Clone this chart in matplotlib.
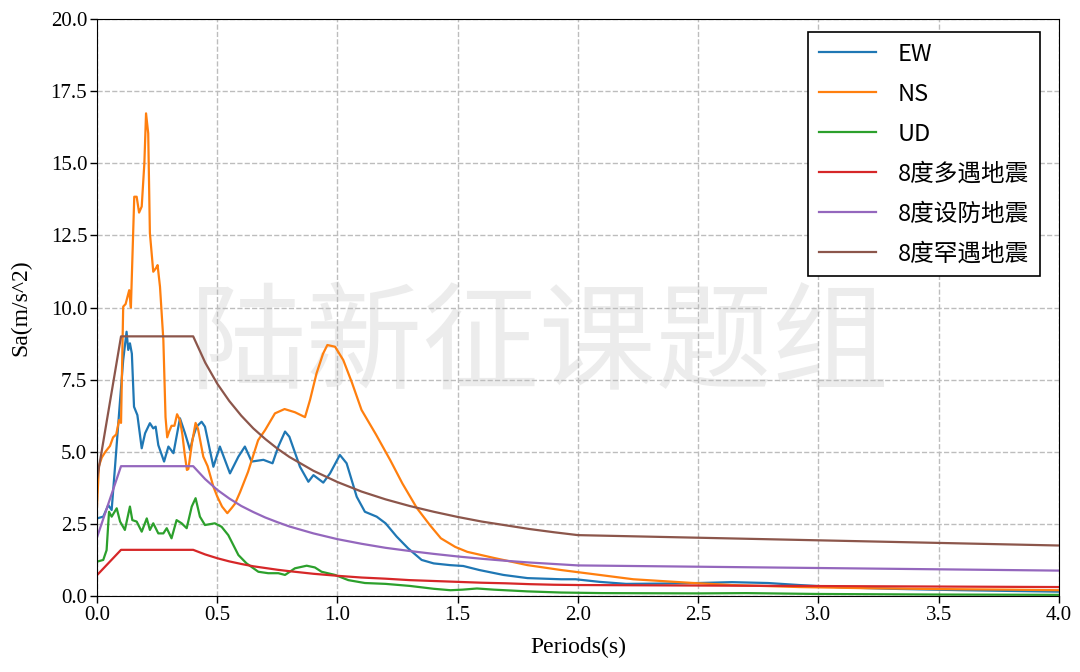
import matplotlib
matplotlib.use("Agg")
import matplotlib.pyplot as plt

# ---- data ----
# EW component
ew_T = [0.0, 0.026, 0.047, 0.061, 0.075, 0.096, 0.109, 0.123, 0.13, 0.137, 0.145, 0.154,
        0.168, 0.186, 0.2, 0.22, 0.234, 0.244, 0.255, 0.279, 0.297, 0.318, 0.345, 0.366,
        0.387, 0.4, 0.414, 0.435, 0.449, 0.484, 0.511, 0.553, 0.588, 0.615, 0.643, 0.692,
        0.73, 0.754, 0.782, 0.8, 0.844, 0.879, 0.9, 0.941, 0.969, 1.01, 1.038, 1.08, 1.114,
        1.163, 1.2, 1.246, 1.294, 1.35, 1.4, 1.468, 1.523, 1.59, 1.69, 1.79, 1.93, 1.99,
        2.09, 2.2, 2.35, 2.5, 2.64, 2.79, 2.92, 3.1, 3.3, 3.6, 4.0]
ew_Sa = [2.69, 2.75, 3.15, 2.98, 4.48, 6.79, 8.18, 9.16, 8.53, 8.76, 8.4, 6.56,
         6.27, 5.12, 5.64, 5.99, 5.81, 5.87, 5.23, 4.66, 5.18, 4.95, 6.16, 5.64,
         5.06, 5.52, 5.87, 6.04, 5.87, 4.48, 5.18, 4.25, 4.83, 5.18, 4.66, 4.72,
         4.6, 5.18, 5.7, 5.52, 4.48, 3.96, 4.19, 3.93, 4.25, 4.89, 4.6, 3.44, 2.92,
         2.75, 2.52, 2.06, 1.65, 1.25, 1.13, 1.07, 1.04, 0.9, 0.73, 0.62, 0.58, 0.58,
         0.49, 0.42, 0.43, 0.45, 0.48, 0.45, 0.38, 0.3, 0.25, 0.2, 0.15]

# NS component
ns_T = [0.0, 0.008, 0.02, 0.035, 0.054, 0.067, 0.08, 0.092, 0.1, 0.109, 0.119, 0.134,
        0.141, 0.155, 0.165, 0.175, 0.186, 0.197, 0.204, 0.213, 0.22, 0.234, 0.245, 0.252,
        0.262, 0.276, 0.285, 0.292, 0.3, 0.31, 0.322, 0.333, 0.345, 0.355, 0.365, 0.374,
        0.38, 0.395, 0.41, 0.42, 0.442, 0.46, 0.484, 0.5, 0.52, 0.542, 0.56, 0.574, 0.595,
        0.628, 0.67, 0.699, 0.74, 0.78, 0.823, 0.865, 0.886, 0.913, 0.94, 0.958, 0.99,
        1.024, 1.06, 1.1, 1.16, 1.22, 1.27, 1.33, 1.385, 1.43, 1.49, 1.54, 1.65, 1.79,
        1.93, 2.09, 2.23, 2.48, 2.64, 2.92, 3.2, 3.5, 3.8, 4.0]
ns_Sa = [3.1, 4.5, 4.8, 5.0, 5.2, 5.5, 5.6, 6.1, 6.0, 10.03, 10.12, 10.6,
         10.0, 13.84, 13.84, 13.29, 13.5, 15.0, 16.73, 16.04, 12.58, 11.24, 11.36, 11.47,
         10.72, 8.87, 6.2, 5.5, 5.7, 5.9, 5.9, 6.3, 6.1, 5.6, 4.9, 4.37,
         4.4, 5.3, 6.0, 5.8, 4.83, 4.5, 3.79, 3.45, 3.1, 2.87, 3.05, 3.2, 3.6,
         4.3, 5.4, 5.75, 6.33, 6.48, 6.37, 6.2, 6.8, 7.72, 8.4, 8.7, 8.64,
         8.18, 7.4, 6.45, 5.6, 4.7, 3.9, 3.05, 2.45, 2.0, 1.7, 1.53, 1.32, 1.07,
         0.9, 0.73, 0.58, 0.45, 0.38, 0.31, 0.27, 0.24, 0.22, 0.2]

# UD component
ud_T = [0.0, 0.026, 0.04, 0.05, 0.061, 0.082, 0.096, 0.116, 0.137, 0.147, 0.165, 0.186,
        0.207, 0.22, 0.234, 0.255, 0.276, 0.29, 0.31, 0.331, 0.352, 0.373, 0.394, 0.41,
        0.428, 0.449, 0.49, 0.518, 0.546, 0.574, 0.588, 0.622, 0.671, 0.712, 0.754, 0.782,
        0.823, 0.872, 0.906, 0.934, 0.99, 1.045, 1.114, 1.2, 1.3, 1.4, 1.47, 1.52, 1.58,
        1.65, 1.79, 1.93, 2.1, 2.5, 2.7, 3.0, 3.5, 4.0]
ud_Sa = [1.19, 1.25, 1.59, 2.92, 2.75, 3.04, 2.58, 2.29, 3.1, 2.63, 2.58, 2.23,
         2.69, 2.29, 2.52, 2.17, 2.17, 2.35, 2.0, 2.63, 2.52, 2.35, 3.1, 3.39,
         2.75, 2.46, 2.52, 2.4, 2.11, 1.65, 1.42, 1.13, 0.84, 0.79, 0.79, 0.73,
         0.96, 1.05, 0.99, 0.84, 0.73, 0.55, 0.45, 0.42, 0.35, 0.25, 0.2, 0.22, 0.26,
         0.22, 0.16, 0.12, 0.1, 0.09, 0.1, 0.07, 0.05, 0.04]

# code design spectra (intensity 8), read at the same periods
code_T = [0.0, 0.1, 0.4, 0.45, 0.5, 0.55, 0.6, 0.65, 0.7, 0.75, 0.8, 0.9, 1.0, 1.1,
          1.2, 1.3, 1.4, 1.5, 1.6, 1.7, 1.8, 1.9, 2.0, 4.0]
frequent_Sa = [0.72, 1.6, 1.6, 1.44, 1.31, 1.2, 1.11, 1.03, 0.97, 0.91, 0.86, 0.77, 0.7, 0.64,
               0.6, 0.55, 0.52, 0.49, 0.46, 0.44, 0.41, 0.39, 0.38, 0.31]
design_Sa = [2.03, 4.5, 4.5, 4.05, 3.68, 3.38, 3.12, 2.91, 2.72, 2.56, 2.41, 2.17, 1.97, 1.81,
             1.67, 1.56, 1.46, 1.37, 1.29, 1.22, 1.16, 1.11, 1.06, 0.88]
rare_Sa = [4.05, 9.0, 9.0, 8.09, 7.36, 6.76, 6.25, 5.81, 5.44, 5.11, 4.82, 4.34, 3.95, 3.62,
           3.35, 3.12, 2.92, 2.74, 2.58, 2.45, 2.32, 2.21, 2.11, 1.75]

x_ticks = [0.0, 0.5, 1.0, 1.5, 2.0, 2.5, 3.0, 3.5, 4.0]
y_ticks = [0.0, 2.5, 5.0, 7.5, 10.0, 12.5, 15.0, 17.5, 20.0]

serif = ['Liberation Serif', 'DejaVu Serif']
cjk = ['Noto Sans CJK SC', 'DejaVu Sans']

fig = plt.figure(figsize=(10.8, 6.72), dpi=100)
ax = fig.add_axes([0.0898, 0.1131, 0.8907, 0.8586])

ax.plot(ew_T, ew_Sa, color='#1f77b4', lw=1.6, label='EW')
ax.plot(ns_T, ns_Sa, color='#ff7f0e', lw=1.6, label='NS')
ax.plot(ud_T, ud_Sa, color='#2ca02c', lw=1.6, label='UD')
ax.plot(code_T, frequent_Sa, color='#d62728', lw=1.6, label='8度多遇地震')
ax.plot(code_T, design_Sa, color='#9467bd', lw=1.6, label='8度设防地震')
ax.plot(code_T, rare_Sa, color='#8c564b', lw=1.6, label='8度罕遇地震')

ax.set_xlim(0, 4)
ax.set_ylim(0, 20)
ax.set_xticks(x_ticks)
ax.set_yticks(y_ticks)
ax.set_xticklabels(['%.1f' % v for v in x_ticks], fontfamily=serif, fontsize=15)
ax.set_yticklabels(['%.1f' % v for v in y_ticks], fontfamily=serif, fontsize=15)
ax.set_xlabel('Periods(s)', fontfamily=serif, fontsize=17, labelpad=9)
ax.set_ylabel('Sa(m/s^2)', fontfamily=serif, fontsize=17, labelpad=14)
ax.grid(True, linestyle='--', color='#bdbdbd', lw=1)
ax.tick_params(length=5, width=1, pad=2)

# watermark
ax.text(0.4605, 0.43, '陆新征课题组', transform=ax.transAxes, ha='center', va='center',
        fontsize=84, color='#ececec', family=cjk, fontweight='light', zorder=0.5)

leg = ax.legend(loc='upper right', bbox_to_anchor=(0.9802, 0.9775), borderaxespad=0,
                prop={'family': cjk, 'size': 17}, fancybox=False, framealpha=1,
                edgecolor='black', handlelength=2.4, handletextpad=0.95,
                labelspacing=0.72, borderpad=0.45)
leg.get_frame().set_linewidth(1.2)

fig.savefig('out.png', dpi=100)
